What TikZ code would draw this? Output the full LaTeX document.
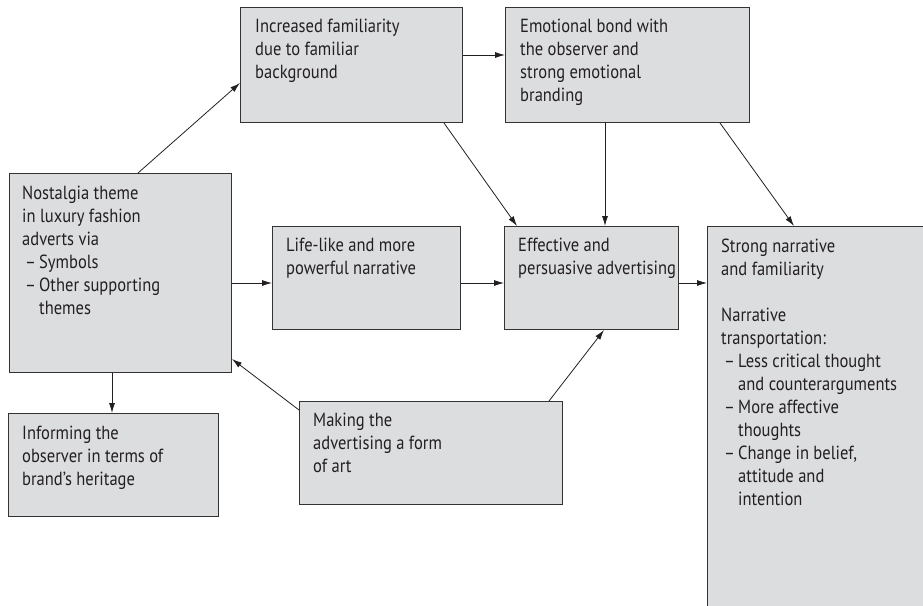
\documentclass[tikz,border=0pt]{standalone}
\usepackage{fontspec}
\setmainfont[FakeStretch=0.87]{PT Sans}
\usetikzlibrary{arrows.meta}
\definecolor{boxfill}{HTML}{DCDDDF}
\definecolor{boxline}{HTML}{333333}
\definecolor{inkcol}{HTML}{231F20}
\newcommand\itm{\makebox[17pt][l]{\hspace{3pt}–}}
\newcommand\cnt{\hspace{17pt}}
\begin{document}
\begin{tikzpicture}[x=1pt,y=-1pt,
  boxnode/.style={draw=boxline, fill=boxfill, line width=1pt, inner sep=0pt, anchor=north west, rectangle},
  txt/.style={anchor=north west, inner sep=0pt, align=left, font=\fontsize{19}{23}\selectfont, text=inkcol},
  conn/.style={-{Latex[length=10pt,width=6pt]}, line width=0.8pt, draw=inkcol}]
\useasboundingbox (0,0) rectangle (923,605);
\clip (0,0) rectangle (923,605);
% boxes
\node[boxnode, minimum width=222pt, minimum height=115pt] (fam) at (240,7) {};
\node[boxnode, minimum width=244pt, minimum height=115pt] (emo) at (505,7) {};
\node[boxnode, minimum width=222pt, minimum height=199pt] (nos) at (9,173) {};
\node[boxnode, minimum width=188pt, minimum height=103pt] (life) at (272,226) {};
\node[boxnode, minimum width=174pt, minimum height=103pt] (eff) at (504,226) {};
\node[boxnode, minimum width=230pt, minimum height=400pt] (str) at (707,226) {};
\node[boxnode, minimum width=210pt, minimum height=103pt] (inf) at (8,413) {};
\node[boxnode, minimum width=263pt, minimum height=103pt] (mak) at (299,401) {};
% texts
\node[txt] (famt) at ([shift={(15,12)}]fam.north west) {Increased familiarity\\due to familiar\\background};
\node[txt] (emot) at ([shift={(15,12)}]emo.north west) {Emotional bond with\\the observer and\\strong emotional\\branding};
\node[txt] (nost) at ([shift={(13,13)}]nos.north west) {Nostalgia theme\\in luxury fashion\\adverts via\\\itm Symbols\\\itm Other supporting\\\cnt themes};
\node[txt] (lifet) at ([shift={(14,12)}]life.north west) {Life-like and more\\powerful narrative};
\node[txt] (efft) at ([shift={(14,12)}]eff.north west) {Effective and\\persuasive advertising};
\node[txt] (strt) at ([shift={(14,13)}]str.north west) {Strong narrative\\and familiarity\\[23pt]Narrative\\transportation:\\\itm Less critical thought\\\cnt and counterarguments\\\itm More affective\\\cnt thoughts\\\itm Change in belief,\\\cnt attitude and\\\cnt intention};
\node[txt] (inft) at ([shift={(14,13)}]inf.north west) {Informing the\\observer in terms of\\brand’s heritage};
\node[txt] (makt) at ([shift={(14,12)}]mak.north west) {Making the\\advertising a form\\of art};
% connectors
\draw[conn] ([xshift=129pt]nos.north west) -- ([yshift=-76pt]fam.north west);
\draw[conn] ([yshift=-48pt]fam.north east) -- ([yshift=-48pt]emo.north west);
\draw[conn] ([xshift=-19pt]fam.south east) -- ([xshift=13pt]eff.north west);
\draw[conn] ([xshift=100pt]emo.south west) -- ([xshift=101pt]eff.north west);
\draw[conn] ([xshift=-30pt]emo.south east) -- ([xshift=87pt]str.north west);
\draw[conn] ([yshift=-110pt]nos.north east) -- ([yshift=-57pt]life.north west);
\draw[conn] ([yshift=-57pt]life.north east) -- ([yshift=-57pt]eff.north west);
\draw[conn] ([yshift=-57pt]eff.north east) -- ([yshift=-57pt]str.north west);
\draw[conn] ([xshift=103pt]nos.south west) -- ([xshift=104pt]inf.north west);
\draw[conn] ([yshift=-9pt]mak.north west) -- ([yshift=14pt]nos.south east);
\draw[conn] ([xshift=-14pt]mak.north east) -- ([xshift=-75pt]eff.south east);
\end{tikzpicture}
\end{document}
